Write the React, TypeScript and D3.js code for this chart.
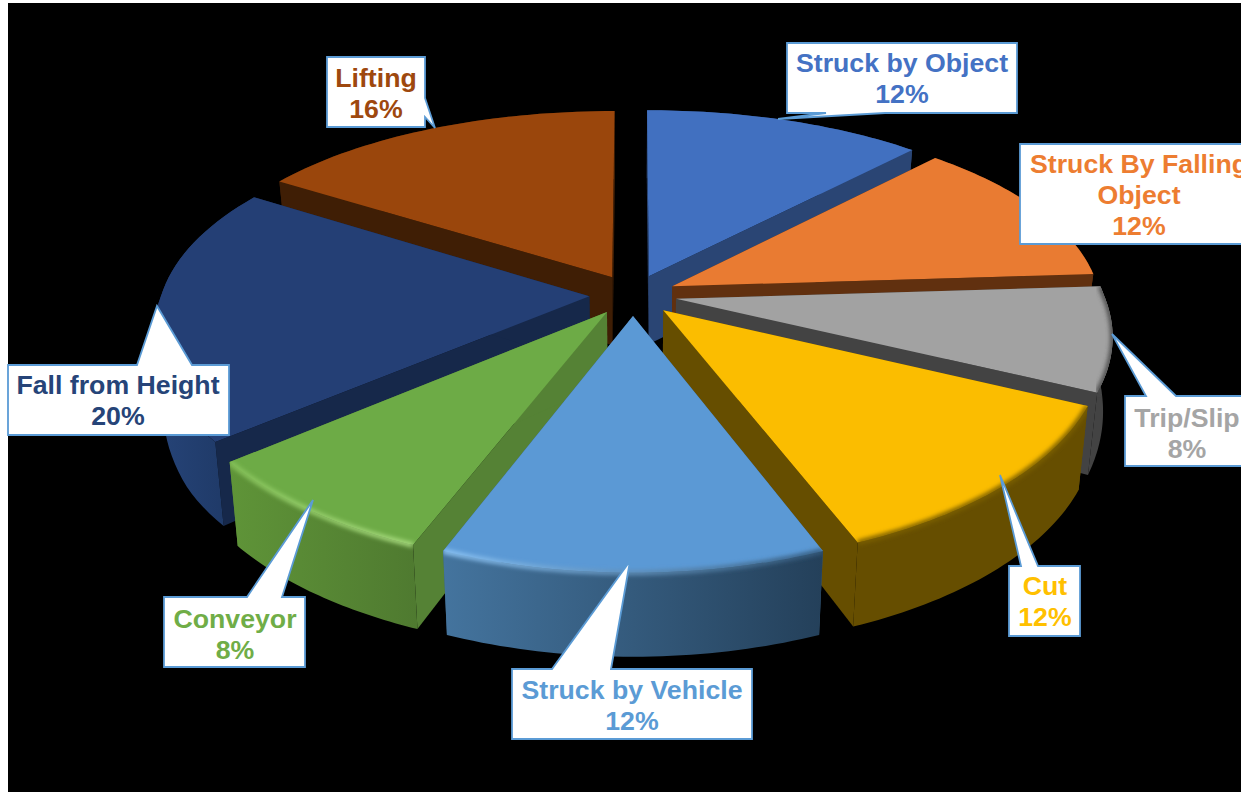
import { useMemo } from 'react';

import * as d3 from 'd3';

const categories = [
  'Struck by Object',
  'Struck By Falling Object',
  'Trip/Slip',
  'Cut',
  'Struck by Vehicle',
  'Conveyor',
  'Fall from Height',
  'Lifting',
];
const shares = [12, 12, 8, 12, 12, 8, 20, 16];

const labelColors = ['#4472c4', '#ed7d31', '#a5a5a5', '#ffc000', '#5b9bd5', '#70ad47', '#264478', '#9e480e'];
const topColors = ['#4170c0', '#e97b32', '#a2a2a2', '#fbbd00', '#5b99d5', '#6dab46', '#243f75', '#9a460c'];
const radialColors = ['#2a4574', '#61300f', '#434343', '#664e00', '#365d80', '#558235', '#16284a', '#3f1e05'];
const wallLeft = ['#2a4574', '#61300f', '#434343', '#664e00', '#44749e', '#5f9438', '#264478', '#3f1e05'];
const wallRight = ['#2a4574', '#61300f', '#434343', '#664e00', '#24405a', '#4f7a30', '#1c3560', '#3f1e05'];
const rimLeft = ['none', 'none', '#4a4a4a', '#7a5e00', '#8cc4f5', '#86c25a', 'none', 'none'];
const rimRight = ['none', 'none', '#4a4a4a', '#7a5e00', '#345a7c', '#a9dc80', 'none', 'none'];

// callouts: box edges, pointer base and tip, first baseline
const boxes = [
  { x0: 787, x1: 1017, y0: 43, y1: 113, tip: [778, 119], base: [[885, 113], [826, 113]], cx: 902, y: 72 },
  { x0: 1020, x1: 1250, y0: 144, y1: 244, tip: null, base: null, cx: 1139, y: 173 },
  { x0: 1125, x1: 1250, y0: 396, y1: 466, tip: [1112, 334], base: [[1146, 396], [1176, 396]], cx: 1187, y: 427 },
  { x0: 1009, x1: 1080, y0: 566, y1: 636, tip: [1000, 475], base: [[1021, 566], [1038, 566]], cx: 1045, y: 595 },
  { x0: 512, x1: 752, y0: 669, y1: 739, tip: [630, 561], base: [[552, 669], [611, 669]], cx: 632, y: 699 },
  { x0: 164, x1: 305, y0: 597, y1: 667, tip: [313, 500], base: [[247, 597], [282, 597]], cx: 235, y: 628 },
  { x0: 8, x1: 229, y0: 365, y1: 435, tip: [157, 306], base: [[137, 365], [192, 365]], cx: 118, y: 394 },
  { x0: 327, x1: 425, y0: 57, y1: 127, tip: [435, 128], base: [[425, 117], [425, 98]], cx: 376, y: 87 },
];
const labelLines = [['Struck by Object'], ['Struck By Falling', 'Object'], ['Trip/Slip'], ['Cut'], ['Struck by Vehicle'], ['Conveyor'], ['Fall from Height'], ['Lifting']];

const width = 1241,
  height = 792;

// perspective of the tilted disc
const cx = 633,
  cy = 295,
  Rx = 428,
  Ry = 202,
  perspFront = 0.165,
  perspBack = 0.13,
  perspY = 0.18,
  bottomShrink = 0.02,
  explode = 0.102;

// wall height grows towards the viewer, flat past the front third
const depthAt = d3.scaleLinear().domain([-0.5, 0]).range([84, 68]).clamp(true);

const project = (u: number, v: number, z: number): [number, number] => {
  const wx = 1 + (v > 0 ? perspBack : perspFront) * v,
    wy = 1 + perspY * v;
  return [cx + ((Rx * u) / wx) * (1 - z * bottomShrink), cy - (Ry * v) / wy + z * depthAt(v)];
};

const line = d3.line();

export default function App() {
  const slices = useMemo(() => {
    const arcs = d3.pie<number>().sort(null)(shares);
    return arcs
      .map((a, i) => {
        const mid = (a.startAngle + a.endAngle) / 2;
        const u0 = explode * Math.sin(mid),
          v0 = explode * Math.cos(mid);
        const at = (t: number, r: number, z: number) => project(u0 + r * Math.sin(t), v0 + r * Math.cos(t), z);
        const steps = d3.range(0, 41).map((k) => a.startAngle + ((a.endAngle - a.startAngle) * k) / 40);
        const rimTop = steps.map((t) => at(t, 1, 0));
        const rimBottom = steps.map((t) => at(t, 1, 1));
        return {
          i,
          order: Math.cos(mid),
          top: line([at(0, 0, 0), ...rimTop])! + 'Z',
          rim: line(rimTop)!,
          outer: line([...rimTop, ...rimBottom.slice().reverse()])! + 'Z',
          outerBack: Math.cos(mid) > 0,
          radA: line([at(0, 0, 0), at(a.startAngle, 1, 0), at(a.startAngle, 1, 1), at(0, 0, 1)])! + 'Z',
          radB: line([at(0, 0, 0), at(a.endAngle, 1, 0), at(a.endAngle, 1, 1), at(0, 0, 1)])! + 'Z',
        };
      })
      .sort((p, q) => q.order - p.order);
  }, []);

  return (
    <svg
      width={width}
      height={height}
      style={{ position: 'absolute', left: 0, top: 0, display: 'block', background: '#fff' }}
      fontFamily="'Liberation Sans', Arial, sans-serif"
    >
      <defs>
        <filter id="soft" x="-5%" y="-30%" width="110%" height="160%">
          <feGaussianBlur stdDeviation="2.2" />
        </filter>
        {categories.map((_, i) => (
          <linearGradient key={i} id={`wall${i}`} x1="0" x2="1" y1="0" y2="0">
            <stop offset="0" stopColor={wallLeft[i]} />
            <stop offset="1" stopColor={wallRight[i]} />
          </linearGradient>
        ))}
        {categories.map((_, i) => (
          <linearGradient key={i} id={`rim${i}`} x1="0" x2="1" y1="0" y2="0">
            <stop offset="0" stopColor={rimLeft[i]} />
            <stop offset="1" stopColor={rimRight[i]} />
          </linearGradient>
        ))}
        {slices.map((s) => (
          <clipPath key={s.i} id={`shape${s.i}`}>
            <path d={s.top} />
            <path d={s.outer} />
          </clipPath>
        ))}
      </defs>
      <rect x={8} y={3} width={width - 8} height={height - 3} fill="#000" />

      {slices.map((s) => (
        <g key={s.i}>
          {s.outerBack && <path d={s.outer} fill={`url(#wall${s.i})`} />}
          <path d={s.radA} fill={radialColors[s.i]} />
          <path d={s.radB} fill={radialColors[s.i]} />
          {!s.outerBack && <path d={s.outer} fill={`url(#wall${s.i})`} />}
          <path d={s.top} fill={topColors[s.i]} />
          {rimLeft[s.i] !== 'none' && (
            <g clipPath={`url(#shape${s.i})`}>
              <path d={s.rim} fill="none" stroke={`url(#rim${s.i})`} strokeWidth={5} filter="url(#soft)" />
            </g>
          )}
        </g>
      ))}

      {categories.map((_, i) => {
        const b = boxes[i];
        const pts: [number, number][] = [
          [b.x0, b.y0],
          [b.x1, b.y0],
          [b.x1, b.y1],
          [b.x0, b.y1],
        ];
        // walk the box clockwise and splice the pointer into the side it leaves from
        let outline = pts;
        if (b.tip && b.base) {
          const pointer = [b.base[0], b.tip, b.base[1]] as [number, number][];
          const onBottom = b.base[0][1] === b.y1;
          const onTop = b.base[0][1] === b.y0;
          if (onTop) outline = [pts[0], ...pointer, pts[1], pts[2], pts[3]];
          else if (onBottom) outline = [pts[0], pts[1], pts[2], ...pointer, pts[3]];
          else outline = [pts[0], pts[1], b.base[1], b.tip, b.base[0], pts[2], pts[3]] as [number, number][];
        }
        const lines = [...labelLines[i], `${shares[i]}%`];
        return (
          <g key={i}>
            <path d={line(outline)! + 'Z'} fill="#fff" stroke="#5b9bd5" strokeWidth={1.8} />
            <text textAnchor="middle" fontWeight="bold" fontSize={26.7} fill={labelColors[i]}>
              {lines.map((t, k) => (
                <tspan key={k} x={b.cx} y={b.y + k * 31}>
                  {t}
                </tspan>
              ))}
            </text>
          </g>
        );
      })}
    </svg>
  );
}
